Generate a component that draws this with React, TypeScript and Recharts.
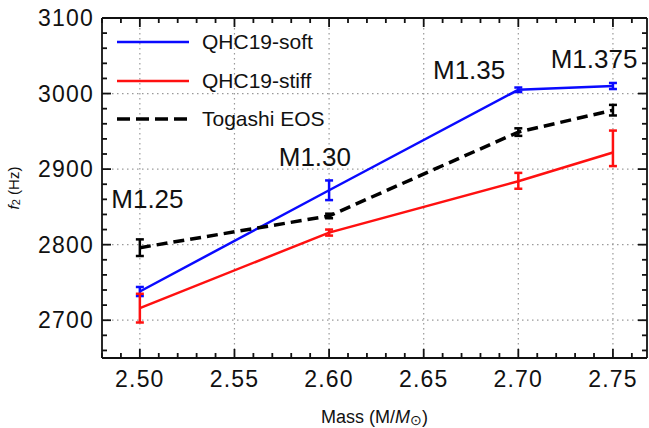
import {
  LineChart,
  Line,
  XAxis,
  YAxis,
  CartesianGrid,
  ErrorBar,
  Legend,
  ReferenceDot,
  Label,
} from 'recharts'

// values
const masses = [2.5, 2.6, 2.7, 2.75]
const softF2 = [2738, 2872, 3005, 3010]
const softErr = [[6, 6], [13, 13], [3, 3], [4, 4]]
const stiffF2 = [2716, 2816, 2884, 2922]
const stiffErr = [[19, 19], [4, 4], [10, 11], [18, 29]]
const togashiF2 = [2796, 2838, 2949, 2978]
const togashiErr = [[11, 11], [3, 3], [5, 5], [7, 7]]

const seriesNames = ['QHC19-soft', 'QHC19-stiff', 'Togashi EOS']
const seriesColors = ['#0a0aff', '#ff1010', '#000000']

const annLabels = ['M1.25', 'M1.30', 'M1.35', 'M1.375']
const annX = [2.504, 2.5925, 2.674, 2.74]
const annY = [2861, 2916, 3031, 3046]

const xMajor = [2.5, 2.55, 2.6, 2.65, 2.7, 2.75]
const yMajor = [2700, 2800, 2900, 3000, 3100]
const xDomain = [2.48, 2.768]
const yDomain = [2650, 3100]
const xMinor = Array.from({ length: 29 }, (_, i) => +(2.48 + i * 0.01).toFixed(2))
const yMinor = Array.from({ length: 23 }, (_, i) => 2660 + i * 20)

const data = masses.map((m, i) => ({
  mass: m,
  soft: softF2[i],
  softErr: softErr[i],
  stiff: stiffF2[i],
  stiffErr: stiffErr[i],
  togashi: togashiF2[i],
  togashiErr: togashiErr[i],
}))

const FONT = '"Liberation Sans", Arial, Helvetica, sans-serif'
const MAJOR_LEN = 9
const MINOR_LEN = 5

const isMajor = (v: number, majors: number[]) => majors.some((m) => Math.abs(m - v) < 1e-6)

const tickText = { fontFamily: FONT, fontSize: 23, letterSpacing: 1.2, fill: '#111' }
const tickStroke = { stroke: '#111', strokeWidth: 1.8 }

// tickSize/tickMargin are 0, so x/y given to these are the frame edge itself
function BottomTick(props: any) {
  const { x, y, payload } = props
  const major = isMajor(payload.value, xMajor)
  return (
    <g>
      <line x1={x} x2={x} y1={y} y2={y - (major ? MAJOR_LEN : MINOR_LEN)} style={tickStroke} />
      {major && (
        <text x={x} y={y + 29} textAnchor="middle" {...tickText}>
          {payload.value.toFixed(2)}
        </text>
      )}
    </g>
  )
}

function TopTick(props: any) {
  const { x, y, payload } = props
  const major = isMajor(payload.value, xMajor)
  return <line x1={x} x2={x} y1={y} y2={y + (major ? MAJOR_LEN : MINOR_LEN)} style={tickStroke} />
}

function LeftTick(props: any) {
  const { x, y, payload } = props
  const major = isMajor(payload.value, yMajor)
  return (
    <g>
      <line x1={x} x2={x + (major ? MAJOR_LEN : MINOR_LEN)} y1={y} y2={y} style={tickStroke} />
      {major && (
        <text x={x - 8} y={y + 8} textAnchor="end" {...tickText}>
          {payload.value}
        </text>
      )}
    </g>
  )
}

function RightTick(props: any) {
  const { x, y, payload } = props
  const major = isMajor(payload.value, yMajor)
  return <line x1={x} x2={x - (major ? MAJOR_LEN : MINOR_LEN)} y1={y} y2={y} style={tickStroke} />
}

function LegendBox() {
  return (
    <div style={{ fontFamily: FONT, fontSize: 21, color: '#111' }}>
      {seriesNames.map((name, i) => (
        <div key={name} style={{ display: 'flex', alignItems: 'center', height: 38.5 }}>
          <svg width={72} height={6} style={{ marginRight: 13 }}>
            <line
              x1={0}
              x2={72}
              y1={3}
              y2={3}
              stroke={seriesColors[i]}
              strokeWidth={i === 2 ? 3.5 : 2.5}
              strokeDasharray={i === 2 ? '13 6' : undefined}
            />
          </svg>
          <span>{name}</span>
        </div>
      ))}
    </div>
  )
}

function YTitle(props: any) {
  const { viewBox } = props
  const cx = viewBox.x + 5
  const cy = viewBox.y + viewBox.height / 2
  return (
    <text
      x={cx}
      y={cy}
      transform={`rotate(-90 ${cx} ${cy})`}
      textAnchor="middle"
      dominantBaseline="central"
      fontFamily={FONT}
      fontSize={15}
      fill="#111"
    >
      <tspan fontStyle="italic">f</tspan>
      <tspan fontSize={11} dy={3}>2</tspan>
      <tspan dy={-3}> (Hz)</tspan>
    </text>
  )
}

function XTitle(props: any) {
  const { viewBox } = props
  const cx = viewBox.x + viewBox.width / 2
  return (
    <text x={cx} y={viewBox.y + 65} textAnchor="middle" fontFamily={FONT} fontSize={18} fill="#111">
      Mass (M/<tspan fontStyle="italic">M</tspan>
      <tspan fontSize={14} dy={2}>⊙</tspan>
      <tspan dy={-2}>)</tspan>
    </text>
  )
}

const frameLine = { stroke: '#111', strokeWidth: 1.8 }

export default function App() {
  return (
    <div style={{ position: 'absolute', left: 0, top: 0, width: 649, height: 428, background: '#fff' }}>
      <LineChart width={649} height={428} data={data} margin={{ top: 17, right: 1, bottom: 0, left: 8 }}>
        <CartesianGrid
          horizontalValues={yMajor}
          verticalValues={xMajor}
          stroke="#9a9a9a"
          strokeWidth={1.2}
          strokeDasharray="1.5 3.5"
        />
        <XAxis
          dataKey="mass"
          type="number"
          domain={xDomain}
          ticks={xMinor}
          interval={0}
          allowDataOverflow
          height={70}
          tickSize={0}
          tickMargin={0}
          tickLine={false}
          tick={<BottomTick />}
          axisLine={frameLine}
        >
          <Label content={<XTitle />} />
        </XAxis>
        <XAxis
          xAxisId="top"
          orientation="top"
          dataKey="mass"
          type="number"
          domain={xDomain}
          ticks={xMinor}
          interval={0}
          allowDataOverflow
          height={1}
          tickSize={0}
          tickMargin={0}
          tickLine={false}
          tick={<TopTick />}
          axisLine={frameLine}
        />
        <YAxis
          type="number"
          domain={yDomain}
          ticks={yMinor}
          interval={0}
          allowDataOverflow
          width={94}
          tickSize={0}
          tickMargin={0}
          tickLine={false}
          tick={<LeftTick />}
          axisLine={frameLine}
        >
          <Label content={<YTitle />} />
        </YAxis>
        <YAxis
          yAxisId="right"
          orientation="right"
          type="number"
          domain={yDomain}
          ticks={yMinor}
          interval={0}
          allowDataOverflow
          width={1}
          tickSize={0}
          tickMargin={0}
          tickLine={false}
          tick={<RightTick />}
          axisLine={frameLine}
        />
        <Legend
          layout="vertical"
          align="center"
          verticalAlign="middle"
          wrapperStyle={{ left: 117, top: 23, width: 'auto' }}
          content={<LegendBox />}
        />
        {/* invisible series so the top/right frame axes get drawn */}
        <Line
          xAxisId="top"
          yAxisId="right"
          dataKey="soft"
          stroke="transparent"
          dot={false}
          legendType="none"
          isAnimationActive={false}
        />
        <Line
          dataKey="soft"
          name={seriesNames[0]}
          stroke={seriesColors[0]}
          strokeWidth={2.5}
          dot={false}
          isAnimationActive={false}
        >
          <ErrorBar dataKey="softErr" direction="y" width={4} stroke={seriesColors[0]} strokeWidth={2.5} />
        </Line>
        <Line
          dataKey="stiff"
          name={seriesNames[1]}
          stroke={seriesColors[1]}
          strokeWidth={2.5}
          dot={false}
          isAnimationActive={false}
        >
          <ErrorBar dataKey="stiffErr" direction="y" width={4} stroke={seriesColors[1]} strokeWidth={2.5} />
        </Line>
        <Line
          dataKey="togashi"
          name={seriesNames[2]}
          stroke={seriesColors[2]}
          strokeWidth={3.5}
          strokeDasharray="11 6"
          dot={false}
          isAnimationActive={false}
        >
          <ErrorBar dataKey="togashiErr" direction="y" width={4} stroke={seriesColors[2]} strokeWidth={2.5} />
        </Line>
        {annLabels.map((t, i) => (
          <ReferenceDot
            key={t}
            x={annX[i]}
            y={annY[i]}
            r={0}
            fill="none"
            stroke="none"
            label={{ value: t, position: 'center', fontSize: 26, fill: '#111', fontFamily: FONT }}
          />
        ))}
      </LineChart>
    </div>
  )
}
